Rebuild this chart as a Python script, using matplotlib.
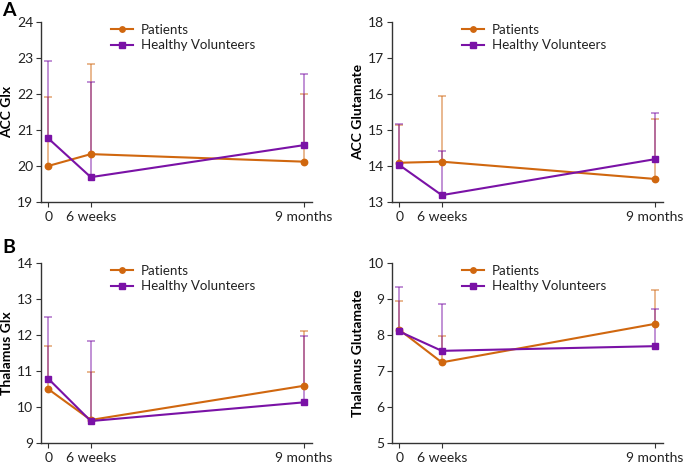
import matplotlib
matplotlib.use("Agg")
import matplotlib.pyplot as plt
import numpy as np

plt.rcParams['font.family'] = ['Lato', 'DejaVu Sans']

time_pos = [0, 1.5, 9]
time_labels = ["0", "6 weeks", "9 months"]

# ACC Glx
acc_glx_pat = [20.00, 20.33, 20.12]
acc_glx_pat_up = [21.92, 22.84, 21.99]
acc_glx_hv = [20.77, 19.69, 20.58]
acc_glx_hv_up = [22.93, 22.33, 22.55]

# ACC Glutamate
acc_glu_pat = [14.09, 14.12, 13.64]
acc_glu_pat_up = [15.14, 15.94, 15.30]
acc_glu_hv = [14.03, 13.19, 14.19]
acc_glu_hv_up = [15.16, 14.43, 15.47]

# Thalamus Glx
thal_glx_pat = [10.50, 9.64, 10.59]
thal_glx_pat_up = [11.69, 10.97, 12.12]
thal_glx_hv = [10.79, 9.61, 10.13]
thal_glx_hv_up = [12.51, 11.82, 11.98]

# Thalamus Glutamate
thal_glu_pat = [8.15, 7.24, 8.31]
thal_glu_pat_up = [8.94, 7.97, 9.24]
thal_glu_hv = [8.10, 7.56, 7.69]
thal_glu_hv_up = [9.34, 8.87, 8.73]

ORANGE = '#D0670F'
PURPLE = '#7A12A6'

fig = plt.figure(figsize=(6.85, 4.65), dpi=100)

def panel(rect, pat, pat_up, hv, hv_up, ylim, ylabel):
    ax = fig.add_axes(rect)
    for vals, ups, col in [(pat, pat_up, ORANGE), (hv, hv_up, PURPLE)]:
        v = np.array(vals); u = np.array(ups)
        eb = ax.errorbar(time_pos, v, yerr=[np.zeros_like(v), u - v], fmt='none',
                         ecolor=col, elinewidth=1.3, capsize=3, capthick=1.3,
                         alpha=0.5, zorder=2)
        eb[1][0].set_visible(False)
    for vals, col, mk, lab in [(pat, ORANGE, 'o', 'Patients'),
                               (hv, PURPLE, 's', 'Healthy Volunteers')]:
        ax.plot(time_pos, vals, color=col, marker=mk, markersize=4.6, lw=1.5,
                label=lab, zorder=3)
    ax.set_xlim(-0.25, 9.28)
    ax.set_ylim(*ylim)
    ax.set_yticks(np.arange(ylim[0], ylim[1] + 1, 1))
    ax.set_xticks(time_pos)
    ax.set_xticklabels(time_labels)
    for s in ['top', 'right']:
        ax.spines[s].set_visible(False)
    for s in ['left', 'bottom']:
        ax.spines[s].set_color('#333333')
        ax.spines[s].set_linewidth(1.0)
    ax.tick_params(axis='both', labelsize=10, color='#333333', length=3.5,
                   labelcolor='#222222')
    ax.tick_params(axis='x', pad=3)
    ax.tick_params(axis='y', pad=2)
    ax.set_ylabel(ylabel, fontsize=10, fontweight='bold')
    ax.yaxis.set_label_coords(-0.102, 0.5)
    leg = ax.legend(loc='upper left', bbox_to_anchor=(0.215, 1.055), frameon=False,
                    fontsize=9.6, handlelength=1.6, labelspacing=0.25,
                    handletextpad=0.6, markerscale=0.85)
    for t in leg.get_texts():
        t.set_color('#222222')
    return ax

W = 0.3956; H = 0.3871
panel([0.0599, 0.5656, W, H], acc_glx_pat, acc_glx_pat_up, acc_glx_hv, acc_glx_hv_up,
      (19, 24), 'ACC Glx')
panel([0.5723, 0.5656, W, H], acc_glu_pat, acc_glu_pat_up, acc_glu_hv, acc_glu_hv_up,
      (13, 18), 'ACC Glutamate')
panel([0.0599, 0.0473, W, H], thal_glx_pat, thal_glx_pat_up, thal_glx_hv, thal_glx_hv_up,
      (9, 14), 'Thalamus Glx')
panel([0.5723, 0.0473, W, H], thal_glu_pat, thal_glu_pat_up, thal_glu_hv, thal_glu_hv_up,
      (5, 10), 'Thalamus Glutamate')

fig.text(0.003, 0.977, 'A', fontsize=14, fontweight='bold', va='center', ha='left')
fig.text(0.003, 0.468, 'B', fontsize=14, fontweight='bold', va='center', ha='left')

fig.savefig('out.png', dpi=100)
